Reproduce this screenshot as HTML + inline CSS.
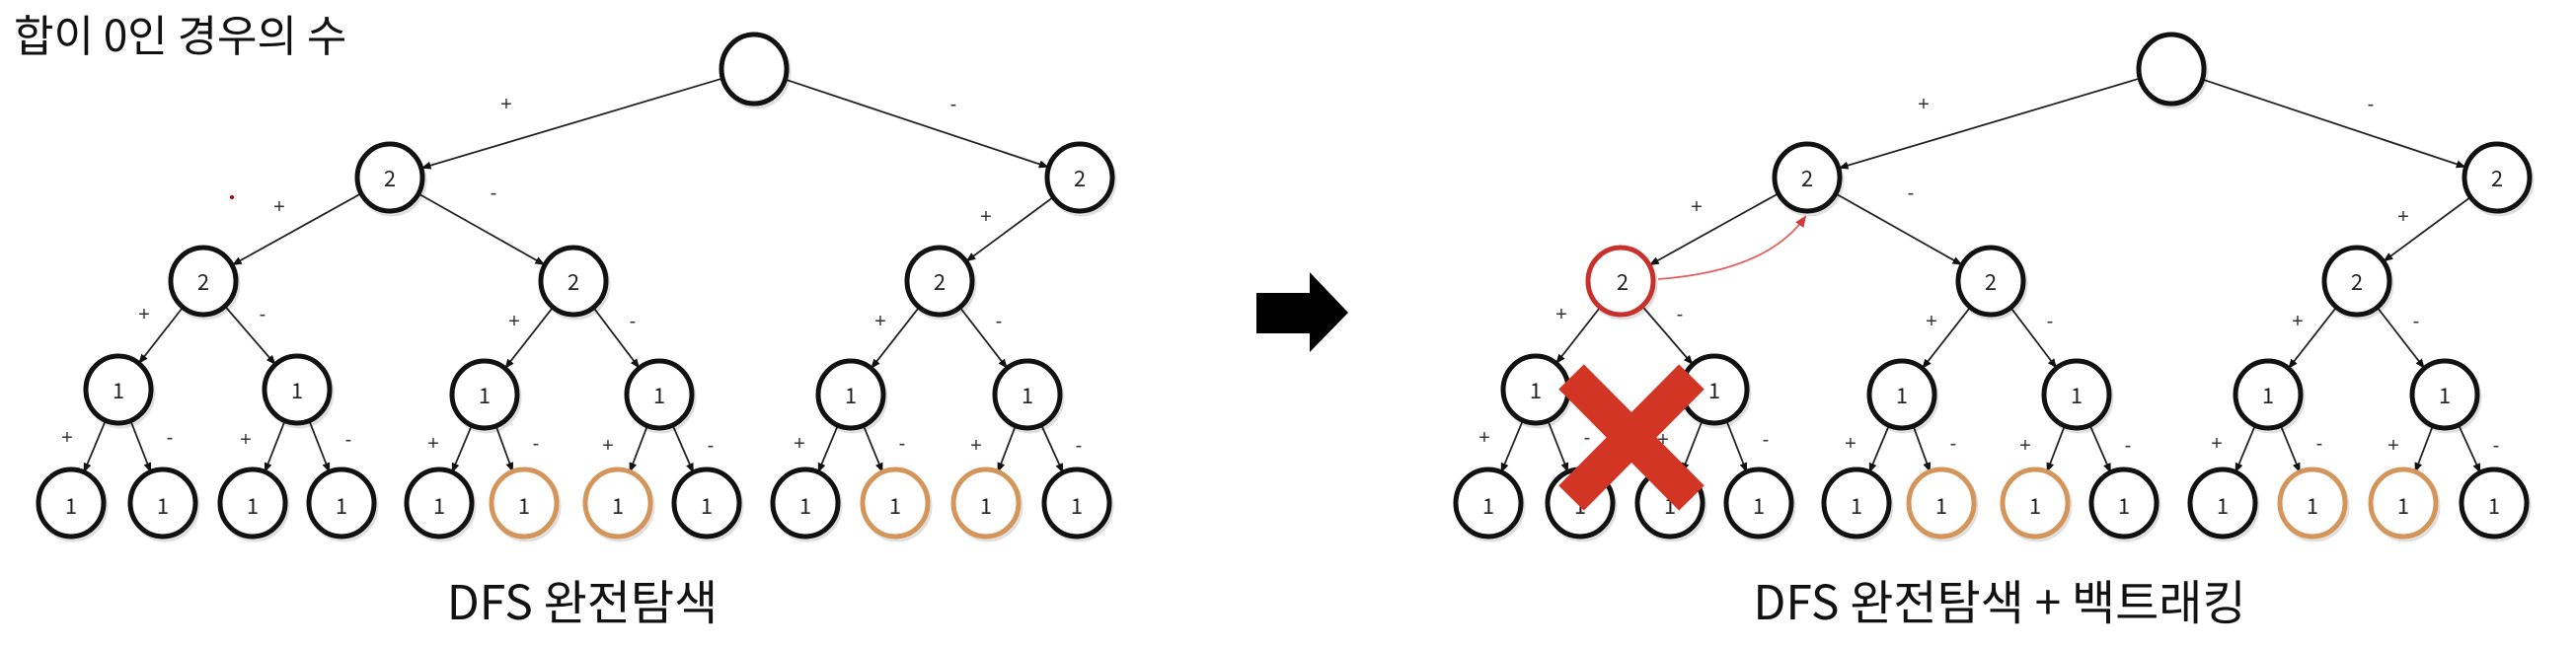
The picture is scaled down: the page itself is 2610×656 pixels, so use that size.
<!DOCTYPE html>
<html><head><meta charset="utf-8"><style>
html,body{margin:0;padding:0;background:#fff;}
svg{display:block;}
text{font-family:"Liberation Sans","Noto Sans CJK KR",sans-serif;}
.k{font-family:"Noto Sans CJK KR","Liberation Sans",sans-serif;font-weight:400;}
.n{font-size:22px;text-anchor:middle;dominant-baseline:central;fill:#222;font-family:"Noto Sans CJK KR",sans-serif;}
.l{font-size:20px;text-anchor:middle;fill:#333;}
</style></head><body>
<svg id="s" width="2610" height="656" viewBox="0 0 2610 656" xmlns="http://www.w3.org/2000/svg">
<defs>
<marker id="ah" markerWidth="10" markerHeight="10" refX="9" refY="5" orient="auto" markerUnits="userSpaceOnUse" viewBox="0 0 10 10"><path d="M0,1 L10,5 L0,9 Z" fill="#111"/></marker>
<marker id="rh" markerWidth="12" markerHeight="12" refX="10" refY="6" orient="auto" markerUnits="userSpaceOnUse" viewBox="0 0 12 12"><path d="M0,1 L12,6 L0,11 Z" fill="#d43a3a"/></marker>
</defs>
<g id="g"></g>
<text class="k" x="14" y="52" style="font-size:44px" fill="#111">합이 0인 경우의 수</text>
<text class="k" x="590" y="628" style="font-size:48px" text-anchor="middle" fill="#111">DFS 완전탐색</text>
<text class="k" x="2026" y="628" style="font-size:48px" text-anchor="middle" fill="#111">DFS 완전탐색 + 백트래킹</text>
<path d="M1273,297 H1327 V276 L1366,317 L1327,357 V338 H1273 Z" fill="#000"/>
<text class="n" x="395" y="180">2</text><text class="n" x="1094" y="180">2</text>
<text class="n" x="206" y="285">2</text><text class="n" x="581" y="285">2</text><text class="n" x="952" y="285">2</text>
<text class="n" x="120" y="395">1</text><text class="n" x="301" y="395">1</text><text class="n" x="491" y="400">1</text><text class="n" x="668" y="400">1</text><text class="n" x="862" y="400">1</text><text class="n" x="1041" y="400">1</text>
<text class="n" x="72" y="512">1</text><text class="n" x="165" y="512">1</text><text class="n" x="256" y="512">1</text><text class="n" x="346" y="512">1</text><text class="n" x="445" y="512">1</text><text class="n" x="531" y="512">1</text><text class="n" x="626" y="512">1</text><text class="n" x="716" y="512">1</text><text class="n" x="816" y="512">1</text><text class="n" x="907" y="512">1</text><text class="n" x="999" y="512">1</text><text class="n" x="1091" y="512">1</text>
<text class="n" x="1831" y="180">2</text><text class="n" x="2530" y="180">2</text>
<text class="n" x="1644" y="285">2</text><text class="n" x="2017" y="285">2</text><text class="n" x="2388" y="285">2</text>
<text class="n" x="1556" y="395">1</text><text class="n" x="1737" y="395">1</text><text class="n" x="1927" y="400">1</text><text class="n" x="2104" y="400">1</text><text class="n" x="2298" y="400">1</text><text class="n" x="2477" y="400">1</text>
<text class="n" x="1508" y="512">1</text><text class="n" x="1601" y="512">1</text><text class="n" x="1692" y="512">1</text><text class="n" x="1782" y="512">1</text><text class="n" x="1881" y="512">1</text><text class="n" x="1967" y="512">1</text><text class="n" x="2062" y="512">1</text><text class="n" x="2152" y="512">1</text><text class="n" x="2252" y="512">1</text><text class="n" x="2343" y="512">1</text><text class="n" x="2435" y="512">1</text><text class="n" x="2527" y="512">1</text>
<text class="l" x="513" y="112">+</text><text class="l" x="966" y="112">-</text>
<text class="l" x="283" y="216">+</text><text class="l" x="500" y="202">-</text><text class="l" x="999" y="226">+</text>
<circle cx="235" cy="200" r="2" fill="#a00"/>
<text class="l" x="146" y="325">+</text><text class="l" x="266" y="325">-</text>
<text class="l" x="521" y="332">+</text><text class="l" x="641" y="332">-</text>
<text class="l" x="892" y="332">+</text><text class="l" x="1012" y="332">-</text>
<text class="l" x="68" y="450">+</text><text class="l" x="172" y="450">-</text>
<text class="l" x="249" y="452">+</text><text class="l" x="353" y="452">-</text>
<text class="l" x="439" y="456">+</text><text class="l" x="543" y="456">-</text>
<text class="l" x="616" y="458">+</text><text class="l" x="720" y="458">-</text>
<text class="l" x="810" y="456">+</text><text class="l" x="914" y="456">-</text>
<text class="l" x="989" y="458">+</text><text class="l" x="1093" y="458">-</text>
<text class="l" x="1949" y="112">+</text><text class="l" x="2402" y="112">-</text>
<text class="l" x="1719" y="216">+</text><text class="l" x="1936" y="202">-</text><text class="l" x="2435" y="226">+</text>
<text class="l" x="1582" y="325">+</text><text class="l" x="1702" y="325">-</text>
<text class="l" x="1957" y="332">+</text><text class="l" x="2077" y="332">-</text>
<text class="l" x="2328" y="332">+</text><text class="l" x="2448" y="332">-</text>
<text class="l" x="1504" y="450">+</text><text class="l" x="1608" y="450">-</text>
<text class="l" x="1685" y="452">+</text><text class="l" x="1789" y="452">-</text>
<text class="l" x="1875" y="456">+</text><text class="l" x="1979" y="456">-</text>
<text class="l" x="2052" y="458">+</text><text class="l" x="2156" y="458">-</text>
<text class="l" x="2246" y="456">+</text><text class="l" x="2350" y="456">-</text>
<text class="l" x="2425" y="458">+</text><text class="l" x="2529" y="458">-</text>
<g id="top"></g>
</svg>
<script>
(function(){
var NS="http://www.w3.org/2000/svg",g=document.getElementById("g"),top=document.getElementById("top");
function el(t,a,p){var e=document.createElementNS(NS,t);for(var k in a)e.setAttribute(k,a[k]);(p||g).appendChild(e);return e;}
var L4=[72,165,256,346,445,531,626,716,816,907,999,1091];
function panel(o){
 var N={R:[764,70],A:[395,180],B:[1094,180],C:[206,285],D:[581,285],E:[952,285],
 F:[120,395],G:[301,395],H:[491,400],I:[668,400],J:[862,400],K:[1041,400]};
 for(var i=0;i<12;i++)N["l"+i]=[L4[i],510];
 var r=33;
 var E=[["R","A"],["R","B"],["A","C"],["A","D"],["B","E"],["C","F"],["C","G"],["D","H"],["D","I"],["E","J"],["E","K"]];
 var P=["F","G","H","I","J","K"];
 P.forEach(function(p,i){E.push([p,"l"+(2*i)]);E.push([p,"l"+(2*i+1)]);});
 E.forEach(function(e){var a=N[e[0]],b=N[e[1]];var ax=a[0]+o,ay=a[1],bx=b[0]+o,by=b[1];
  var dx=bx-ax,dy=by-ay,d=Math.sqrt(dx*dx+dy*dy),ux=dx/d,uy=dy/d;
  el("line",{x1:ax+ux*r,y1:ay+uy*r,x2:bx-ux*(r+1),y2:by-uy*(r+1),stroke:"#222","stroke-width":1.8,"marker-end":"url(#ah)"});});
 for(var k in N){var c=N[k];var col="#111";
  if(k=="l5"||k=="l6"||k=="l9"||k=="l10")col="#d4955a";
  if(o>0&&k=="C")col="#c9302c";
  var ry=(k=="R")?35:r+1;
  el("ellipse",{cx:c[0]+o+2,cy:c[1]+3,rx:r,ry:ry,fill:"none",stroke:"rgba(0,0,0,0.12)","stroke-width":5});
  el("ellipse",{cx:c[0]+o,cy:c[1],rx:r,ry:ry,fill:"#fff",stroke:col,"stroke-width":5});}
}
panel(0);panel(1436);
el("path",{d:"M1680,283 Q1790,275 1829,220",fill:"none",stroke:"#e06060","stroke-width":1.8,"marker-end":"url(#rh)"},top);
el("path",{d:"M1592,382 L1714,505 M1714,382 L1592,505",stroke:"#d33524","stroke-width":36,fill:"none"},top);
})();
</script>
</body></html>
